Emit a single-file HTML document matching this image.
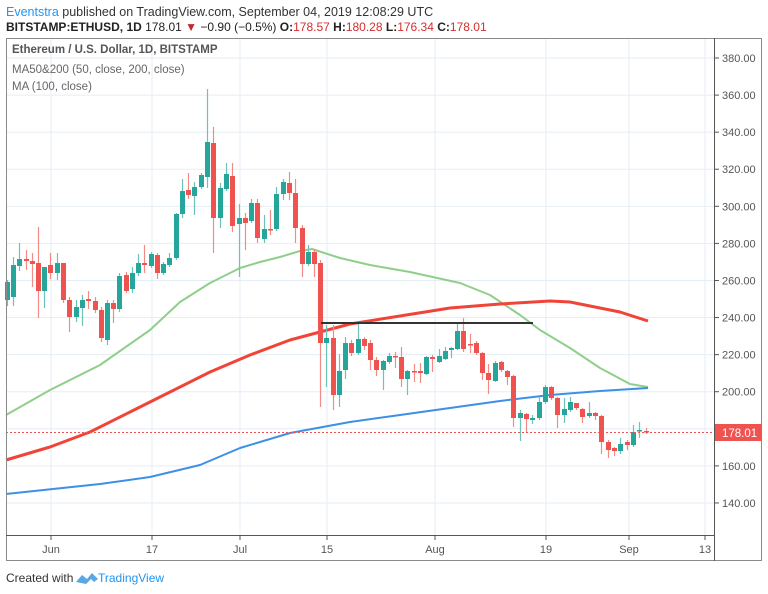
<!DOCTYPE html>
<html><head><meta charset="utf-8"><style>
body{margin:0;background:#fff;width:768px;height:594px;overflow:hidden;font-family:"Liberation Sans",sans-serif}
</style></head><body>
<svg id="s" width="768" height="594" xmlns="http://www.w3.org/2000/svg" style="position:absolute;left:0;top:0">
<text x="6" y="16" font-size="12.5" fill="#2196f3" font-family="Liberation Sans">Eventstra <tspan fill="#333">published on TradingView.com, September 04, 2019 12:08:29 UTC</tspan></text>
<text x="6" y="31" font-size="12" fill="#222" font-family="Liberation Sans"><tspan font-weight="bold">BITSTAMP:ETHUSD, 1D</tspan> 178.01 <tspan fill="#c62828">▼</tspan> −0.90 (−0.5%) <tspan font-weight="bold">O:</tspan><tspan fill="#d32f2f">178.57</tspan> <tspan font-weight="bold">H:</tspan><tspan fill="#d32f2f">180.28</tspan> <tspan font-weight="bold">L:</tspan><tspan fill="#d32f2f">176.34</tspan> <tspan font-weight="bold">C:</tspan><tspan fill="#d32f2f">178.01</tspan></text>
<g id="grid" stroke="#e6eef5" stroke-width="1"></g>
<g id="mas" fill="none"></g>
<g id="c"></g>
<line x1="321" y1="323" x2="533" y2="323" stroke="#333" stroke-width="2"/>
<line x1="6" y1="432.5" x2="714" y2="432.5" stroke="#ef5350" stroke-width="1" stroke-dasharray="2,2"/>
<rect x="6.5" y="38.5" width="755" height="522" fill="none" stroke="#8a8a8a"/>
<line x1="714.5" y1="38" x2="714.5" y2="561" stroke="#555"/>
<line x1="6" y1="535.5" x2="714" y2="535.5" stroke="#555"/>
<g id="ax" font-size="11" fill="#555" font-family="Liberation Sans"></g>
<rect x="715" y="424" width="47" height="17" fill="#ef5350"/>
<text x="722" y="437" font-size="11.5" fill="#fff" font-family="Liberation Sans">178.01</text>
<text x="12" y="53" font-size="11.5" fill="#555" font-family="Liberation Sans" font-weight="bold">Ethereum / U.S. Dollar, 1D, BITSTAMP</text>
<text x="12" y="73" font-size="11.5" fill="#666" font-family="Liberation Sans">MA50&amp;200 (50, close, 200, close)</text>
<text x="12" y="90" font-size="11.5" fill="#666" font-family="Liberation Sans">MA (100, close)</text>
<text x="6" y="582" font-size="12" fill="#333" font-family="Liberation Sans">Created with</text>
<path d="M76 582 l6 -7 l5 4 l5 -6 l6 6 l-4 3 l-3 -3 l-5 5 z" fill="#5aa7e6"/>
<text x="98" y="582" font-size="12" fill="#2196f3" font-family="Liberation Sans">TradingView</text>
</svg>
<script>
var NS="http://www.w3.org/2000/svg";
function el(p,t,a){var e=document.createElementNS(NS,t);for(var k in a)e.setAttribute(k,a[k]);p.appendChild(e);return e;}
var g=document.getElementById('grid'),ax=document.getElementById('ax');
for(var p=140;p<=380;p+=20){var y=58+(380-p)*1.854;el(g,'line',{x1:6,x2:714,y1:y,y2:y});
el(ax,'line',{x1:714,x2:719,y1:y,y2:y,stroke:'#555'});var t=el(ax,'text',{x:722,y:y+4});t.textContent=p.toFixed(2);}
var xs=[[51,'Jun'],[152,'17'],[240,'Jul'],[327,'15'],[435,'Aug'],[546,'19'],[629,'Sep'],[705,'13']];
xs.forEach(function(a){el(g,'line',{x1:a[0],x2:a[0],y1:39,y2:535});el(ax,'line',{x1:a[0],x2:a[0],y1:535,y2:540,stroke:'#555'});
var t=el(ax,'text',{x:a[0],y:553,'text-anchor':'middle'});t.textContent=a[1];});
var m=document.getElementById('mas');
function pl(pts,c,w){el(m,'polyline',{points:pts,stroke:c,'stroke-width':w,'stroke-linejoin':'round'});}
pl("6,415 50,390 100,365 150,330 180,302 210,283 240,268 260,262 280,257 300,251 312,249 340,258 370,265 410,272 460,283 490,295 520,315 540,330 570,348 600,368 630,384 648,387","#8fcf8a",2);
pl("6,460 50,447 90,432 130,412 170,392 210,372 250,355 290,340 320,332 350,324 400,316 450,308 500,304 550,301 570,302 600,308 620,312 648,321","#f04438",3);
pl("6,494 100,484 150,477 200,465 240,448 290,433 350,422 400,415 450,408 500,401 550,395 600,391 648,388","#3d8fe8",2);
// [x, open, close, high, low] in pixel y
var C=[[7,300,282,306,280],[13,297,265,306,257],[19,266,259,271,243],[26,259,261,270,250],[32,261,264,287,253],[38,263,291,318,227],[44,291,267,308,267],[50,265,273,279,253],[57,273,263,280,253],[63,263,300,303,263],[69,300,317,332,297],[76,317,307,322,300],[82,308,300,326,295],[88,299,301,309,291],[95,301,310,313,297],[101,310,338,342,307],[107,340,303,345,300],[113,303,309,323,300],[119,309,276,312,273],[126,275,291,293,272],[132,289,273,293,267],[138,273,263,276,254],[144,263,265,273,245],[151,266,254,268,252],[157,255,273,279,253],[163,273,264,275,262],[169,265,258,267,253],[176,258,214,260,213],[182,214,191,218,179],[188,190,195,199,173],[194,196,187,215,182],[201,187,175,189,173],[207,177,142,188,89],[213,143,218,253,127],[220,218,188,228,183],[226,189,174,191,163],[232,176,226,232,163],[239,224,218,277,204],[245,218,223,250,213],[251,221,203,223,199],[257,203,238,243,199],[264,239,229,243,215],[270,229,229,235,210],[276,229,194,231,187],[283,194,182,200,179],[289,183,193,200,172],[295,193,228,243,179],[302,228,264,277,225],[308,264,252,266,245],[314,252,264,277,249],[320,263,343,407,260],[326,343,338,387,325],[333,338,395,410,325],[339,395,371,407,354],[345,370,343,379,337],[351,343,353,356,340],[358,353,339,355,324],[364,339,346,350,337],[370,343,360,370,340],[376,360,370,376,357],[383,370,361,390,360],[389,362,356,364,353],[395,356,357,368,352],[401,357,379,387,347],[407,379,371,395,370],[414,371,372,382,364],[420,371,373,383,363],[426,374,357,375,356],[432,357,359,372,355],[439,362,356,363,349],[445,359,351,360,347],[451,350,348,358,347],[457,349,331,350,323],[463,331,349,352,318],[470,344,344,353,334],[476,343,353,355,341],[482,353,373,380,352],[488,373,380,394,364],[495,381,363,382,361],[501,362,370,372,361],[507,371,377,385,370],[513,376,418,427,375],[520,418,413,441,410],[526,414,419,433,413],[532,420,418,424,415],[539,418,402,420,397],[545,402,387,404,385],[551,387,398,400,386],[557,398,415,428,397],[564,415,409,423,398],[570,410,402,412,397],[576,403,408,410,403],[582,409,417,423,408],[589,416,413,418,402],[595,413,416,420,412],[601,416,442,454,415],[608,442,450,458,440],[614,448,451,456,447],[620,451,444,454,438],[627,442,445,450,440],[633,445,432,447,425],[639,431,430,438,422],[646,431,432,434,428]];
var cg=document.getElementById('c');
C.forEach(function(d){var up=d[2]<d[1];var col=up?'#26a69a':'#ef5350';var wc=up?'#6cc3b8':'#f28a86';
el(cg,'line',{x1:d[0]+.5,x2:d[0]+.5,y1:d[3],y2:d[4],stroke:wc,'stroke-width':1.2});
var t=Math.min(d[1],d[2]),h=Math.max(1.5,Math.abs(d[1]-d[2]));el(cg,'rect',{x:d[0]-2,y:t,width:5,height:h,fill:col});});
</script>
</body></html>
